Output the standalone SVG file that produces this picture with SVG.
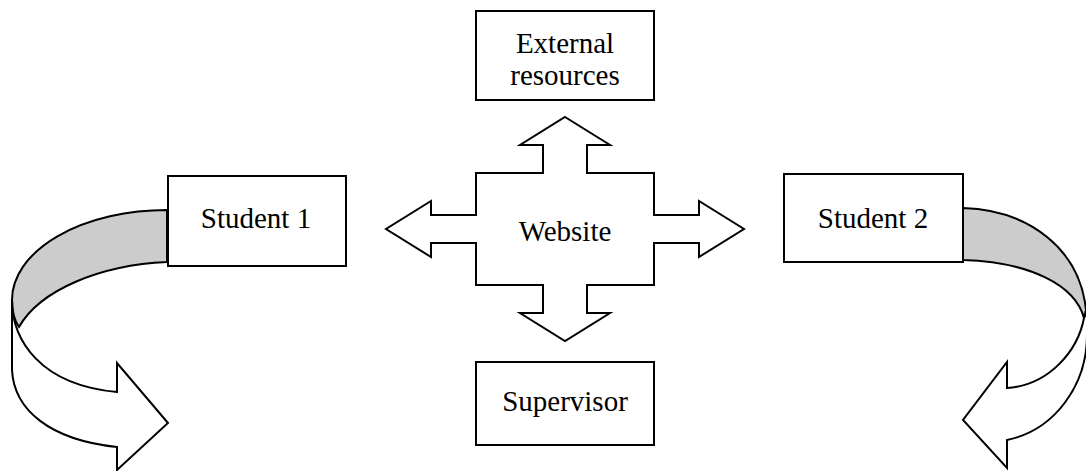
<svg xmlns="http://www.w3.org/2000/svg" width="1086" height="471" viewBox="0 0 1086 471">
  <style>
    .box { fill: #ffffff; stroke: #000000; stroke-width: 2; }
    .shape { fill: #ffffff; stroke: #000000; stroke-width: 2; stroke-linejoin: miter; }
    .back { fill: #cccccc; stroke: #000000; stroke-width: 2; }
    .label { font-family: "Liberation Serif", "Times New Roman", serif; font-size: 29px; fill: #000000; text-anchor: middle; }
  </style>
  <rect width="1086" height="471" fill="#ffffff"/>

  <!-- curved ribbon arrows leaving the student boxes -->
  <g id="connectors">
    <g id="loop-left">
      <path class="back" d="M167,210 A155,90 0 0 0 12,300 C12,310 14,320 19,327 C40,290 100,265 167,262 Z"/>
      <path class="shape" d="M12,300 L12,370 C14,410 50,440 117,447 L117,470 L168,423 L117,363 L117,392 C40,385 12,340 12,300 Z"/>
    </g>
    <g id="loop-right">
      <path class="back" d="M963,208 C1030,210 1080,250 1086,310 L1084,318 C1075,285 1030,262 963,260 Z"/>
      <path class="shape" d="M1084,318 C1078,350 1050,385 1007,388 L1007,362 L963,420 L1007,468 L1007,440 C1055,430 1087,385 1087,335 L1087,312 Z"/>
    </g>
  </g>

  <g id="website">
    <path class="shape" d="M565,117 L610,145 L587,145 L587,173 L654,173 L654,215 L699,215 L699,201 L744,229 L699,257 L699,243 L654,243 L654,285 L587,285 L587,313 L610,313 L565,341 L520,313 L543,313 L543,285 L476,285 L476,243 L431,243 L431,257 L386,229 L431,201 L431,215 L476,215 L476,173 L543,173 L543,145 L520,145 Z"/>
    <text class="label" x="565" y="241">Website</text>
  </g>

  <g id="external-resources">
    <rect class="box" x="476" y="11" width="178" height="89"/>
    <text class="label" x="565" y="53">External</text>
    <text class="label" x="565" y="85">resources</text>
  </g>

  <g id="student-1">
    <rect class="box" x="168" y="176" width="178" height="90"/>
    <text class="label" x="256" y="228">Student 1</text>
  </g>

  <g id="student-2">
    <rect class="box" x="784" y="174" width="179" height="88"/>
    <text class="label" x="873" y="228">Student 2</text>
  </g>

  <g id="supervisor">
    <rect class="box" x="476" y="362" width="178" height="83"/>
    <text class="label" x="565" y="411">Supervisor</text>
  </g>
</svg>
